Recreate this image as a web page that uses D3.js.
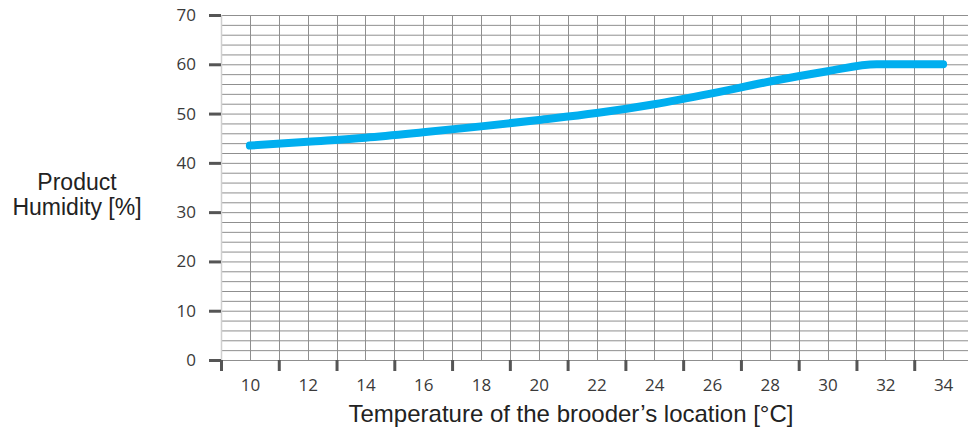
<!DOCTYPE html>
<html>
<head>
<meta charset="utf-8">
<script src="https://cdn.jsdelivr.net/npm/d3@7"></script>
<style>
  body { margin: 0; background: #fff; }
  text { font-family: "Liberation Sans", Arial, sans-serif; }
  .ticklabel { font-family: "Open Sans", "DejaVu Sans", sans-serif; font-size: 17px; fill: #3a3a3a; }
</style>
</head>
<body>
<div id="chart"></div>
<script>
// curve
let temps = [10, 12, 14, 16, 18, 20, 22, 24, 26, 28, 30, 31.7, 34]
let humidity = [43.5, 44.3, 45.1, 46.2, 47.4, 48.7, 50.1, 51.9, 54.1, 56.5, 58.6, 60, 60]

let xTickLabels = [10, 12, 14, 16, 18, 20, 22, 24, 26, 28, 30, 32, 34]
let xTickMarks = [9, 11, 13, 15, 17, 19, 21, 23, 25, 27, 29, 31, 33]
let yTickLabels = [0, 10, 20, 30, 40, 50, 60, 70]

let width = 968, height = 433

let svg = d3.select('#chart').append('svg')
    .attr('width', width)
    .attr('height', height)

let xScale = d3.scaleLinear().domain([9, 35]).range([221, 972])
let yScale = d3.scaleLinear().domain([0, 70]).range([360, 15])

let lineData = temps.map(function(t, i){ return {'x': t, 'y': humidity[i]} })

// grid
let grid = svg.append('g')

grid.selectAll('.hgrid')
    .data(d3.range(0, 71, 2))
    .enter().append('line')
    .attr('x1', xScale(9))
    .attr('x2', width)
    .attr('y1', function(d){ return yScale(d) + 0.5 })
    .attr('y2', function(d){ return yScale(d) + 0.5 })
    .attr('stroke', '#8f8f8f')
    .attr('stroke-width', 1)

grid.selectAll('.vgrid')
    .data(d3.range(10, 35))
    .enter().append('line')
    .attr('x1', function(d){ return Math.round(xScale(d)) + 0.5 })
    .attr('x2', function(d){ return Math.round(xScale(d)) + 0.5 })
    .attr('y1', yScale(70))
    .attr('y2', yScale(0))
    .attr('stroke', '#8f8f8f')
    .attr('stroke-width', 1)

svg.append('line')
    .attr('x1', xScale(9) + 0.5)
    .attr('x2', xScale(9) + 0.5)
    .attr('y1', yScale(70))
    .attr('y2', yScale(0))
    .attr('stroke', '#cfcfcf')
    .attr('stroke-width', 1.5)

// y axis ticks + labels
let yAxis = svg.append('g')
    .attr('transform', 'translate(' + xScale(9) + ',0)')
    .call(d3.axisLeft(yScale).tickValues(yTickLabels).tickSize(12).tickPadding(13))

yAxis.attr('font-size', null).attr('font-family', null)
yAxis.select('.domain').remove()
yAxis.selectAll('line').attr('stroke', '#555').attr('stroke-width', 3)
yAxis.selectAll('text').attr('fill', null).attr('class', 'ticklabel')

// x axis: marks at odd values, labels at even values
let xMarks = svg.append('g')
    .attr('transform', 'translate(0,' + yScale(0) + ')')
    .call(d3.axisBottom(xScale).tickValues(xTickMarks).tickSize(11).tickFormat(''))

xMarks.select('.domain').remove()
xMarks.selectAll('line').attr('stroke', '#555').attr('stroke-width', 3)

let xLabels = svg.append('g')
    .attr('transform', 'translate(0,' + yScale(0) + ')')
    .call(d3.axisBottom(xScale).tickValues(xTickLabels).tickSize(0).tickPadding(19))

xLabels.attr('font-size', null).attr('font-family', null)
xLabels.select('.domain').remove()
xLabels.selectAll('text').attr('fill', null).attr('class', 'ticklabel')

// the curve
svg.append('path')
    .datum(lineData)
    .attr('fill', 'none')
    .attr('stroke', '#00aeef')
    .attr('stroke-width', 8)
    .attr('stroke-linecap', 'round')
    .attr('stroke-linejoin', 'round')
    .attr('d', d3.line()
        .curve(d3.curveMonotoneX)
        .x(function(d){ return xScale(d.x) })
        .y(function(d){ return yScale(d.y) }))

// titles
svg.append('text')
    .attr('x', 571)
    .attr('y', 422)
    .attr('text-anchor', 'middle')
    .attr('font-size', 24)
    .attr('fill', '#222')
    .text('Temperature of the brooder’s location [°C]')

svg.append('text')
    .attr('x', 77)
    .attr('y', 190)
    .attr('text-anchor', 'middle')
    .attr('font-size', 23)
    .attr('fill', '#222')
    .text('Product')

svg.append('text')
    .attr('x', 77)
    .attr('y', 215)
    .attr('text-anchor', 'middle')
    .attr('font-size', 23)
    .attr('fill', '#222')
    .text('Humidity [%]')
</script>
</body>
</html>
